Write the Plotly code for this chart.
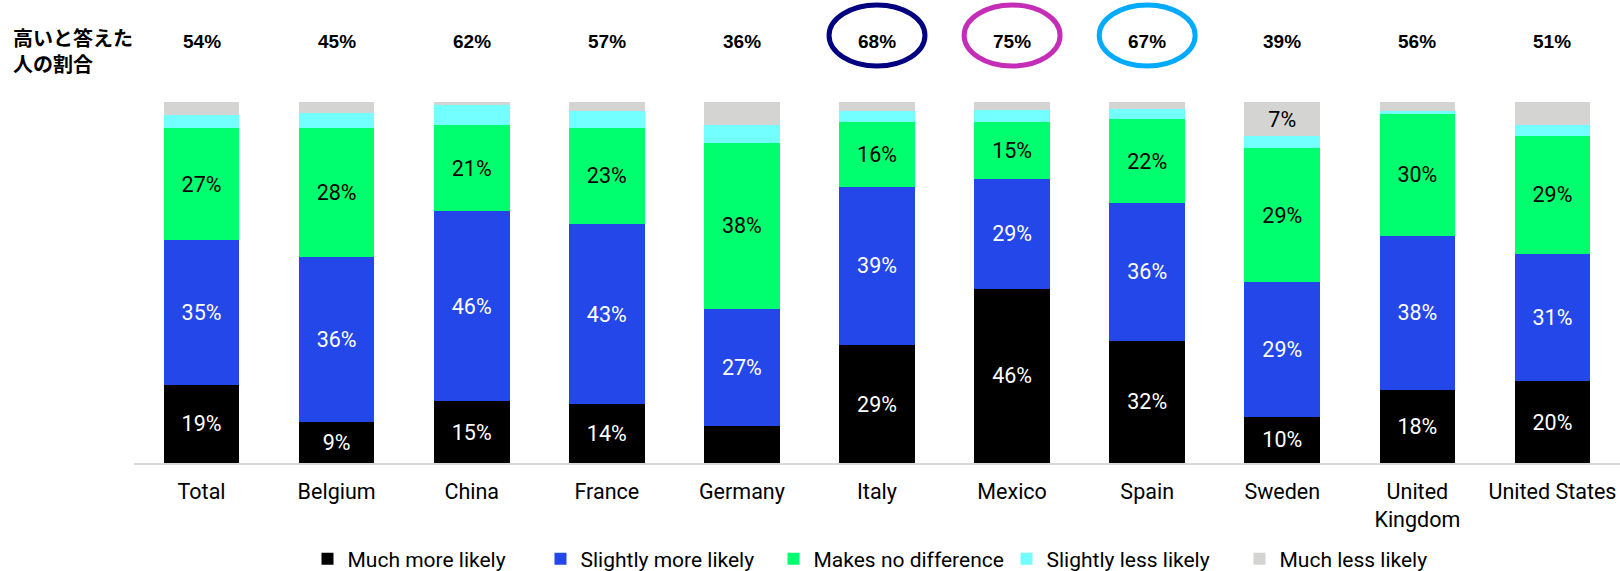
import plotly.graph_objects as go

# ---------------- data ----------------
categories = ["Total", "Belgium", "China", "France", "Germany", "Italy",
              "Mexico", "Spain", "Sweden", "United Kingdom", "United States"]
tick_labels = ["Total", "Belgium", "China", "France", "Germany", "Italy",
               "Mexico", "Spain", "Sweden", "United<br>Kingdom", "United States"]

much_more = [19, 9, 15, 14, 8.5, 29, 46, 32, 10, 18, 20]
slightly_more = [35, 36, 46, 43, 27, 39, 29, 36, 29, 38, 31]
no_difference = [27, 28, 21, 23, 38, 16, 15, 22, 29, 30, 29]
slightly_less = [3.2, 3.3, 4.8, 4.0, 4.3, 2.5, 3.2, 2.7, 2.5, 0.8, 2.7]
much_less = [3.2, 2.4, 0.7, 2.1, 5.2, 2.3, 2.0, 1.8, 7.4, 2.1, 5.5]

high_share = [54, 45, 62, 57, 36, 68, 75, 67, 39, 56, 51]
highlight = {"Italy": "#000080", "Mexico": "#C42DB5", "Spain": "#00AAFF"}
side_title = "高いと答えた<br>人の割合"

series = [
    ("Much more likely", much_more, "#000000", "white"),
    ("Slightly more likely", slightly_more, "#2447EA", "white"),
    ("Makes no difference", no_difference, "#00FF6E", "black"),
    ("Slightly less likely", slightly_less, "#73FFFF", "black"),
    ("Much less likely", much_less, "#D4D4D2", "black"),
]
label_overrides = {("Much less likely", "Sweden")}

# ---------------- geometry ----------------
W, H = 1620, 571
ML, MR, MT, MB = 134, 0, 102, 108
plot_h = H - MT - MB


def ypaper(px):
    return (H - MB - px) / plot_h


def xpaper(px):
    return (px - ML) / (W - ML - MR)


fig = go.Figure()
for name, vals, color, tcolor in series:
    texts = []
    for c, v in zip(categories, vals):
        show = v >= 9 or (name, c) in label_overrides
        texts.append(f"{v:.0f}%" if show else "")
    fig.add_trace(go.Bar(
        name=name, x=categories, y=vals, marker_color=color,
        marker_line_width=0,
        text=texts, textposition="inside", insidetextanchor="middle",
        textangle=0, constraintext="none",
        textfont=dict(family="Roboto", size=21.5, color=tcolor),
        width=0.56, hoverinfo="skip",
    ))

annotations = []
for c, v in zip(categories, high_share):
    annotations.append(dict(
        x=c, xref="x", y=ypaper(41), yref="paper", text=f"<b>{v}%</b>",
        showarrow=False, font=dict(family="Liberation Sans", size=19, color="black"),
        xanchor="center", yanchor="middle"))
annotations.append(dict(
    x=xpaper(11), xref="paper", y=ypaper(50), yref="paper",
    text=f"<b>{side_title}</b>", showarrow=False, align="left",
    font=dict(family="Noto Sans CJK JP", size=20, color="black"),
    xanchor="left", yanchor="middle"))

shapes = []
for c, col in highlight.items():
    i = categories.index(c)
    shapes.append(dict(
        type="circle", xref="x", yref="paper",
        x0=i - 0.355, x1=i + 0.355, y0=ypaper(66), y1=ypaper(5),
        line=dict(color=col, width=5), layer="above"))

fig.update_layout(
    width=W, height=H, barmode="stack", barnorm="percent",
    margin=dict(l=ML, r=MR, t=MT, b=MB, autoexpand=False),
    plot_bgcolor="white", paper_bgcolor="white",
    font=dict(family="Roboto", size=21, color="black"),
    xaxis=dict(range=[-0.5, 10.5], tickmode="array",
               tickvals=list(range(len(categories))), ticktext=tick_labels,
               showline=True, linecolor="#D9D9D9", linewidth=2,
               showgrid=False, ticks="", automargin=False,
               ticklabelstandoff=8,
               tickfont=dict(family="Roboto", size=21.5)),
    yaxis=dict(range=[0, 100], visible=False, showgrid=False, automargin=False),
    showlegend=True,
    legend=dict(orientation="h", x=xpaper(890), xanchor="center",
                y=ypaper(559), yanchor="middle", traceorder="normal",
                font=dict(family="Roboto", size=21), entrywidth=188,
                itemwidth=30),
    annotations=annotations, shapes=shapes,
)
fig.update_xaxes(type="category")

fig.write_html("out.html", post_script="document.body.style.margin='0';",
               config={"displayModeBar": False})
